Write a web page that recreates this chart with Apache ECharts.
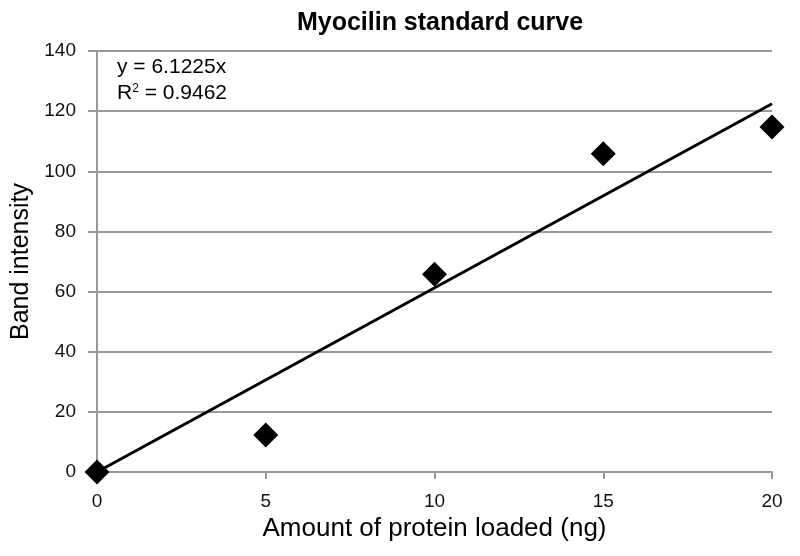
<!DOCTYPE html>
<html><head><meta charset="utf-8">
<script src="https://cdn.jsdelivr.net/npm/echarts@6/dist/echarts.min.js"></script>
<style>html,body{margin:0;padding:0;background:#fff}#c{width:800px;height:556px}</style>
</head><body><div id="c"></div>
<script>
const xValues = [0, 5, 10, 15, 20];
const yValues = [0, 12.3, 65.8, 105.8, 114.7];
const slope = 6.1225;
const rSquared = 0.9462;
const trendX = [0, 20];
const chart = echarts.init(document.getElementById('c'));
const font = '"Liberation Sans", Arial, sans-serif';
chart.setOption({
  animation: false,
  title: { text: 'Myocilin standard curve', left: 435, top: 6, textAlign: 'center',
    textStyle: { fontFamily: font, fontSize: 25, fontWeight: 'bold', color: '#000' } },
  grid: { left: 97, right: 28, top: 51, bottom: 84, containLabel: false, outerBoundsMode: 'none' },
  xAxis: { type: 'value', min: 0, max: 20, interval: 5,
    name: 'Amount of protein loaded (ng)', nameLocation: 'middle', nameGap: 44,
    nameTextStyle: { fontFamily: font, fontSize: 26, color: '#000' },
    axisLine: { lineStyle: { color: '#999', width: 2 } },
    axisTick: { show: true, length: 7, lineStyle: { color: '#999', width: 2 } },
    axisLabel: { fontFamily: font, fontSize: 19, color: '#111', margin: 20 },
    splitLine: { show: false } },
  yAxis: { type: 'value', min: 0, max: 140, interval: 20,
    name: 'Band intensity', nameLocation: 'middle', nameGap: 56, nameRotate: 90,
    nameTextStyle: { fontFamily: font, fontSize: 25, color: '#000' },
    axisLine: { show: true, lineStyle: { color: '#999', width: 2 } },
    axisTick: { show: true, length: 9, lineStyle: { color: '#999', width: 2 } },
    axisLabel: { fontFamily: font, fontSize: 19, color: '#111', margin: 21 },
    splitLine: { show: true, lineStyle: { color: '#999', width: 2 } } },
  graphic: [
    { type: 'text', left: 117, top: 57, style: { text: 'y = ' + slope + 'x', fontFamily: font, fontSize: 21, fill: '#000' } },
    { type: 'text', left: 117, top: 83, style: { text: 'R{s|2} = ' + rSquared, fontFamily: font, fontSize: 21, fill: '#000',
      rich: { s: { fontSize: 12, verticalAlign: 'top', padding: [0, 0, 8, 0], fontFamily: font } } } }
  ],
  series: [
    { type: 'scatter', data: xValues.map((x, i) => [x, yValues[i]]), symbol: 'diamond', symbolSize: 25,
      itemStyle: { color: '#000', opacity: 1 }, z: 3 },
    { type: 'line', data: trendX.map(x => [x, slope * x]), symbol: 'none',
      lineStyle: { color: '#000', width: 3 }, z: 4 }
  ]
});
</script></body></html>
